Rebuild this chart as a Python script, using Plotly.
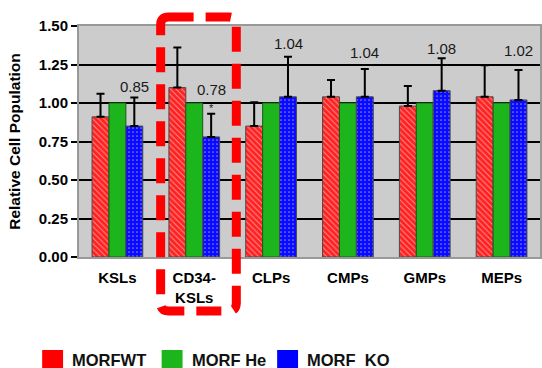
import plotly.graph_objects as go

# Cell populations on the x axis
categories = ["KSLs", "CD34-<br>KSLs", "CLPs", "CMPs", "GMPs", "MEPs"]

# Relative cell population (mean) per genotype
wt_values = [0.91, 1.10, 0.85, 1.04, 0.98, 1.04]
he_values = [1.00, 1.00, 1.00, 1.00, 1.00, 1.00]
ko_values = [0.85, 0.78, 1.04, 1.04, 1.08, 1.02]

# Upper end of each error bar
wt_err_top = [1.06, 1.36, 1.005, 1.15, 1.11, 1.245]
ko_err_top = [1.035, 0.93, 1.30, 1.22, 1.29, 1.215]

series_names = ["MORFWT", "MORF He", "MORF  KO"]

W, H = 542, 368
L, R, T, B = 79, 0, 26, 111
PW, PH = W - L - R, H - T - B


def px(x):
    return (x - L) / PW


def py(y):
    return (H - B - y) / PH


def up(tops, vals):
    return [t - v for t, v in zip(tops, vals)]


font_family = "Liberation Sans, Arial, sans-serif"
bar_line = dict(color="#4a4a4a", width=1)
err_style = dict(type="data", symmetric=False, color="black", thickness=2, width=4)

fig = go.Figure()
fig.add_trace(go.Bar(
    x=categories, y=wt_values, name=series_names[0],
    marker=dict(color="#ff2020", line=bar_line,
                pattern=dict(shape="\\", fgcolor="white", bgcolor="#ff2020",
                             size=4, solidity=0.25)),
    error_y=dict(array=up(wt_err_top, wt_values),
                 arrayminus=[0] * len(wt_values), **err_style),
))
fig.add_trace(go.Bar(
    x=categories, y=he_values, name=series_names[1],
    marker=dict(color="#1cb51c", line=dict(color="#1a5a1a", width=1)),
))
fig.add_trace(go.Bar(
    x=categories, y=ko_values, name=series_names[2],
    marker=dict(color="#0a0aff", line=bar_line,
                pattern=dict(shape=".", fgcolor="white", bgcolor="#0a0aff",
                             size=4, solidity=0.15)),
    error_y=dict(array=up(ko_err_top, ko_values),
                 arrayminus=[0] * len(ko_values), **err_style),
))

# value labels above the knockout bars
label_y = [1.11, 1.085, 1.385, 1.33, 1.355, 1.34]
bar_w = PW / len(categories) * 0.22
annotations = []
for cat, v, ly in zip(categories, ko_values, label_y):
    annotations.append(dict(
        x=cat, y=ly, xref="x", yref="y", text=f"{v:.2f}", showarrow=False,
        xshift=bar_w, font=dict(family=font_family, size=15, color="#1a1a1a"),
    ))
annotations.append(dict(
    x=categories[1], y=0.965, xref="x", yref="y", text="*", showarrow=False,
    xshift=bar_w, font=dict(family=font_family, size=11, color="#1a1a1a"),
))

# legend drawn below the chart
legend_colors = ["#ff0000", "#1cb51c", "#0000ff"]
legend_x = [42, 162, 278]
shapes = []
for name, col, lx in zip(series_names, legend_colors, legend_x):
    shapes.append(dict(type="rect", xref="paper", yref="paper",
                       x0=px(lx), x1=px(lx + 21), y0=py(368), y1=py(350),
                       fillcolor=col, line=dict(width=0)))
    annotations.append(dict(
        x=px(lx + 28), y=py(360), xref="paper", yref="paper", text=f"<b>{name}</b>",
        showarrow=False, xanchor="left", yanchor="middle",
        font=dict(family=font_family, size=16.5, color="#111"),
    ))

# dashed highlight around the CD34- KSLs group
x0, x1, y0, y1, r = 161, 237, 17, 311, 8
path = (
    f"M {px(x0 + r)} {py(y0)} L {px(x1 - r)} {py(y0)} "
    f"Q {px(x1)} {py(y0)} {px(x1)} {py(y0 + r)} L {px(x1)} {py(y1 - r)} "
    f"Q {px(x1)} {py(y1)} {px(x1 - r)} {py(y1)} L {px(x0 + r)} {py(y1)} "
    f"Q {px(x0)} {py(y1)} {px(x0)} {py(y1 - r)} L {px(x0)} {py(y0 + r)} "
    f"Q {px(x0)} {py(y0)} {px(x0 + r)} {py(y0)} Z"
)
shapes.append(dict(type="path", xref="paper", yref="paper", path=path,
                   line=dict(color="#ff0000", width=9, dash="25px,12px"),
                   layer="above"))

fig.update_layout(
    width=W, height=H, margin=dict(l=L, r=R, t=T, b=B, pad=0),
    barmode="group", bargap=0.34, bargroupgap=0,
    plot_bgcolor="#cccccc", paper_bgcolor="white",
    showlegend=False,
    font=dict(family=font_family, color="black"),
    annotations=annotations, shapes=shapes,
)
fig.update_xaxes(
    showline=True, linecolor="#999999", linewidth=2, mirror=True,
    tickfont=dict(family=font_family, size=15, color="black", weight="bold"),
    ticks="", showgrid=False, ticklabelstandoff=6,
)
fig.update_yaxes(
    range=[0, 1.5], dtick=0.25, tickformat=".2f",
    showline=True, linecolor="#999999", linewidth=2, mirror=True,
    showgrid=True, gridcolor="black", gridwidth=2, zeroline=False,
    ticks="outside", ticklen=6, tickwidth=2, tickcolor="black",
    tickfont=dict(family=font_family, size=15, color="black", weight="bold"),
    title=dict(text="<b>Relative Cell Population</b>", standoff=14,
               font=dict(family=font_family, size=15.5, color="black")),
)

fig.write_html("out.html")
